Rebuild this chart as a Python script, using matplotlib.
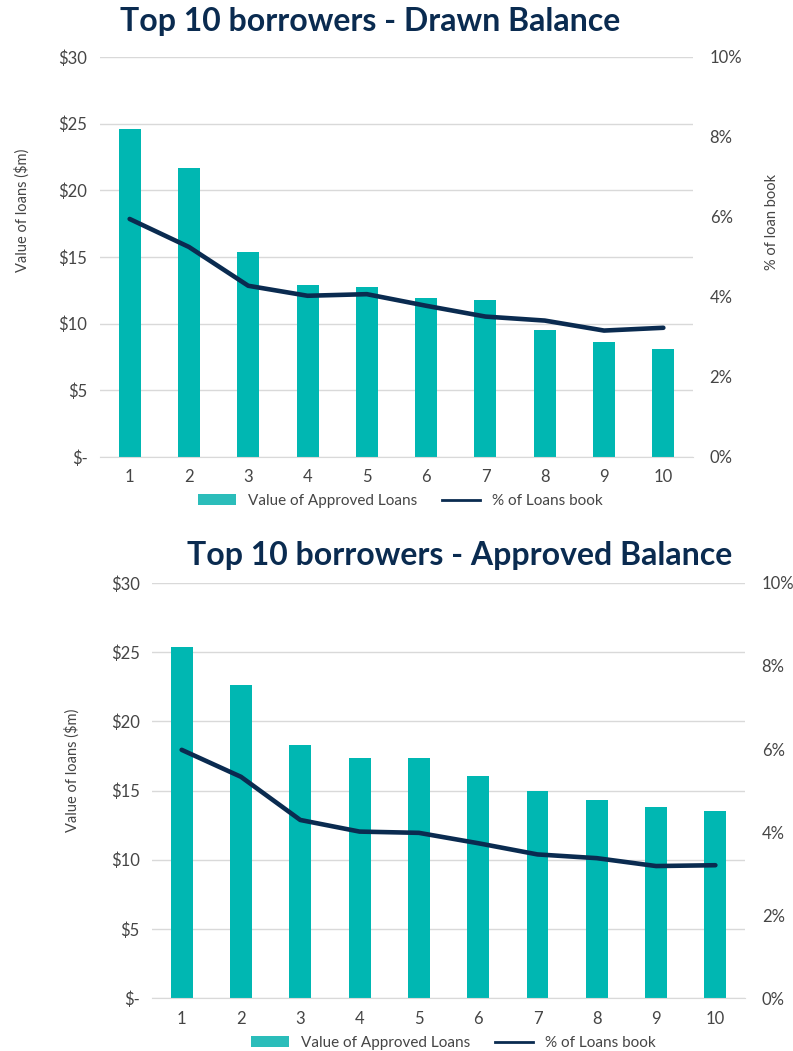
import matplotlib.pyplot as plt
from matplotlib.ticker import FuncFormatter
from matplotlib.patches import Patch
from matplotlib.lines import Line2D

plt.rcParams['font.family'] = ['Lato', 'DejaVu Sans']

# data
borrowers = [1, 2, 3, 4, 5, 6, 7, 8, 9, 10]
drawn_value = [24.6, 21.7, 15.4, 12.9, 12.75, 11.9, 11.8, 9.5, 8.6, 8.1]
drawn_pct = [5.95, 5.25, 4.28, 4.03, 4.07, 3.78, 3.51, 3.41, 3.16, 3.23]
approved_value = [25.4, 22.6, 18.3, 17.35, 17.35, 16.05, 14.97, 14.3, 13.83, 13.55]
approved_pct = [5.98, 5.33, 4.29, 4.01, 3.98, 3.73, 3.46, 3.37, 3.18, 3.2]

TEAL = '#00b7b2'
NAVY = '#0a2b50'
GREY = '#454545'
GRID = '#d9d9d9'


def money(v, pos):
    return '$-' if v == 0 else '${:.0f}'.format(v)


def draw_panel(fig, rect, values, pct, title, title_xy, ylab_xy, rlab_xy, leg_xy):
    ax = fig.add_axes(rect)
    x = list(range(len(borrowers)))
    ax.bar(x, values, width=0.37, color=TEAL, zorder=2)
    ax.set_ylim(0, 30)
    ax.set_xlim(-0.5, len(borrowers) - 0.5)
    ax.set_yticks([0, 5, 10, 15, 20, 25, 30])
    ax.yaxis.set_major_formatter(FuncFormatter(money))
    ax.set_xticks(x)
    ax.set_xticklabels([str(b) for b in borrowers])
    ax.grid(axis='y', color=GRID, linewidth=1, zorder=0)
    ax.set_axisbelow(True)
    for s in ['top', 'right', 'left']:
        ax.spines[s].set_visible(False)
    ax.spines['bottom'].set_color(GRID)
    ax.tick_params(axis='both', length=0, labelsize=12, colors=GREY)
    ax.tick_params(axis='y', pad=9)
    ax.tick_params(axis='x', pad=9)

    ax2 = ax.twinx()
    ax2.plot(x, pct, color=NAVY, linewidth=3.3, solid_joinstyle='round',
             solid_capstyle='round', zorder=3)
    ax2.set_ylim(0, 10)
    ax2.set_yticks([0, 2, 4, 6, 8, 10])
    ax2.yaxis.set_major_formatter(FuncFormatter(lambda v, p: '{:.0f}%'.format(v)))
    for s in ax2.spines.values():
        s.set_visible(False)
    ax2.tick_params(axis='y', length=0, labelsize=12, colors=GREY, pad=12)

    fig.text(title_xy[0], title_xy[1], title, fontsize=23, fontweight='bold',
             color=NAVY, ha='center', va='center')
    fig.text(ylab_xy[0], ylab_xy[1], 'Value of loans ($m)', rotation=90,
             fontsize=10.5, color=GREY, ha='center', va='center')
    if rlab_xy is not None:
        fig.text(rlab_xy[0], rlab_xy[1], '% of loan book', rotation=90,
                 fontsize=10.5, color=GREY, ha='center', va='center')

    handles = [Patch(facecolor='#2bbdba', edgecolor='none'),
               Line2D([0], [0], color=NAVY, linewidth=2)]
    fig.legend(handles, ['Value of Approved Loans', '% of Loans book'],
               loc='center', bbox_to_anchor=leg_xy, ncol=2, frameon=False,
               fontsize=11, handlelength=2.5, handleheight=0.7,
               columnspacing=1.6, labelcolor=GREY)


fig = plt.figure(figsize=(7.93, 10.51), dpi=100)

draw_panel(fig, [0.1261, 0.5652, 0.7478, 0.3806], drawn_value, drawn_pct,
           'Top 10 borrowers - Drawn Balance',
           (0.467, 1 - 22 / 1051), (0.028, 1 - 210 / 1051),
           (0.973, 1 - 222 / 1051), (0.505, 1 - 501 / 1051))

draw_panel(fig, [0.1917, 0.0504, 0.7478, 0.3949], approved_value, approved_pct,
           'Top 10 borrowers - Approved Balance',
           (0.579, 1 - 555 / 1051), (0.091, 1 - 770 / 1051),
           None, (0.572, 1 - 1043 / 1051))

fig.savefig('out.png', dpi=100)
